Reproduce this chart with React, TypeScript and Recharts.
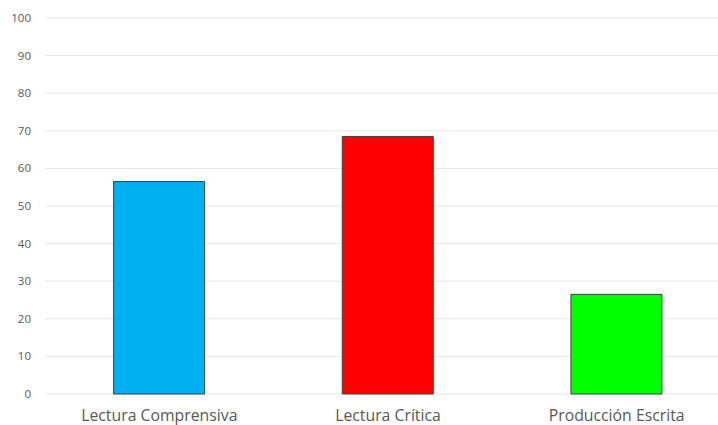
import React from "react";
import { BarChart, Bar, XAxis, YAxis, CartesianGrid, Cell } from "recharts";

const categories = ["Lectura Comprensiva", "Lectura Crítica", "Producción Escrita"];
const values = [56.5, 68.5, 26.5];
const colors = ["#00B0F0", "#FF0000", "#00FF00"];
const yTicks = [0, 10, 20, 30, 40, 50, 60, 70, 80, 90, 100];

const data = categories.map((name, i) => ({ name, value: values[i] }));

export default function App() {
  return (
    <div style={{ position: "absolute", left: 0, top: 0, width: 718, height: 425, overflow: "hidden", background: "#fff" }}>
      <BarChart
        width={731}
        height={425}
        data={data}
        margin={{ top: 18, right: 0, bottom: 0, left: 0 }}
        barCategoryGap="30%"
      >
        <CartesianGrid vertical={false} stroke="#e6e6e6" strokeWidth={1} />
        <XAxis
          dataKey="name"
          axisLine={false}
          tickLine={false}
          tickSize={0}
          tickMargin={16}
          height={31}
          interval={0}
          tick={{ fill: "#595959", fontSize: 15.8, fontFamily: "Open Sans" }}
        />
        <YAxis
          domain={[0, 100]}
          ticks={yTicks}
          axisLine={false}
          tickLine={false}
          tickSize={0}
          tickMargin={14}
          width={45}
          tick={{ fill: "#595959", fontSize: 11.5, fontFamily: "Open Sans" }}
        />
        <Bar dataKey="value" stroke="#404040" strokeWidth={1} isAnimationActive={false}>
          {data.map((d, i) => (
            <Cell key={d.name} fill={colors[i]} />
          ))}
        </Bar>
      </BarChart>
    </div>
  );
}
